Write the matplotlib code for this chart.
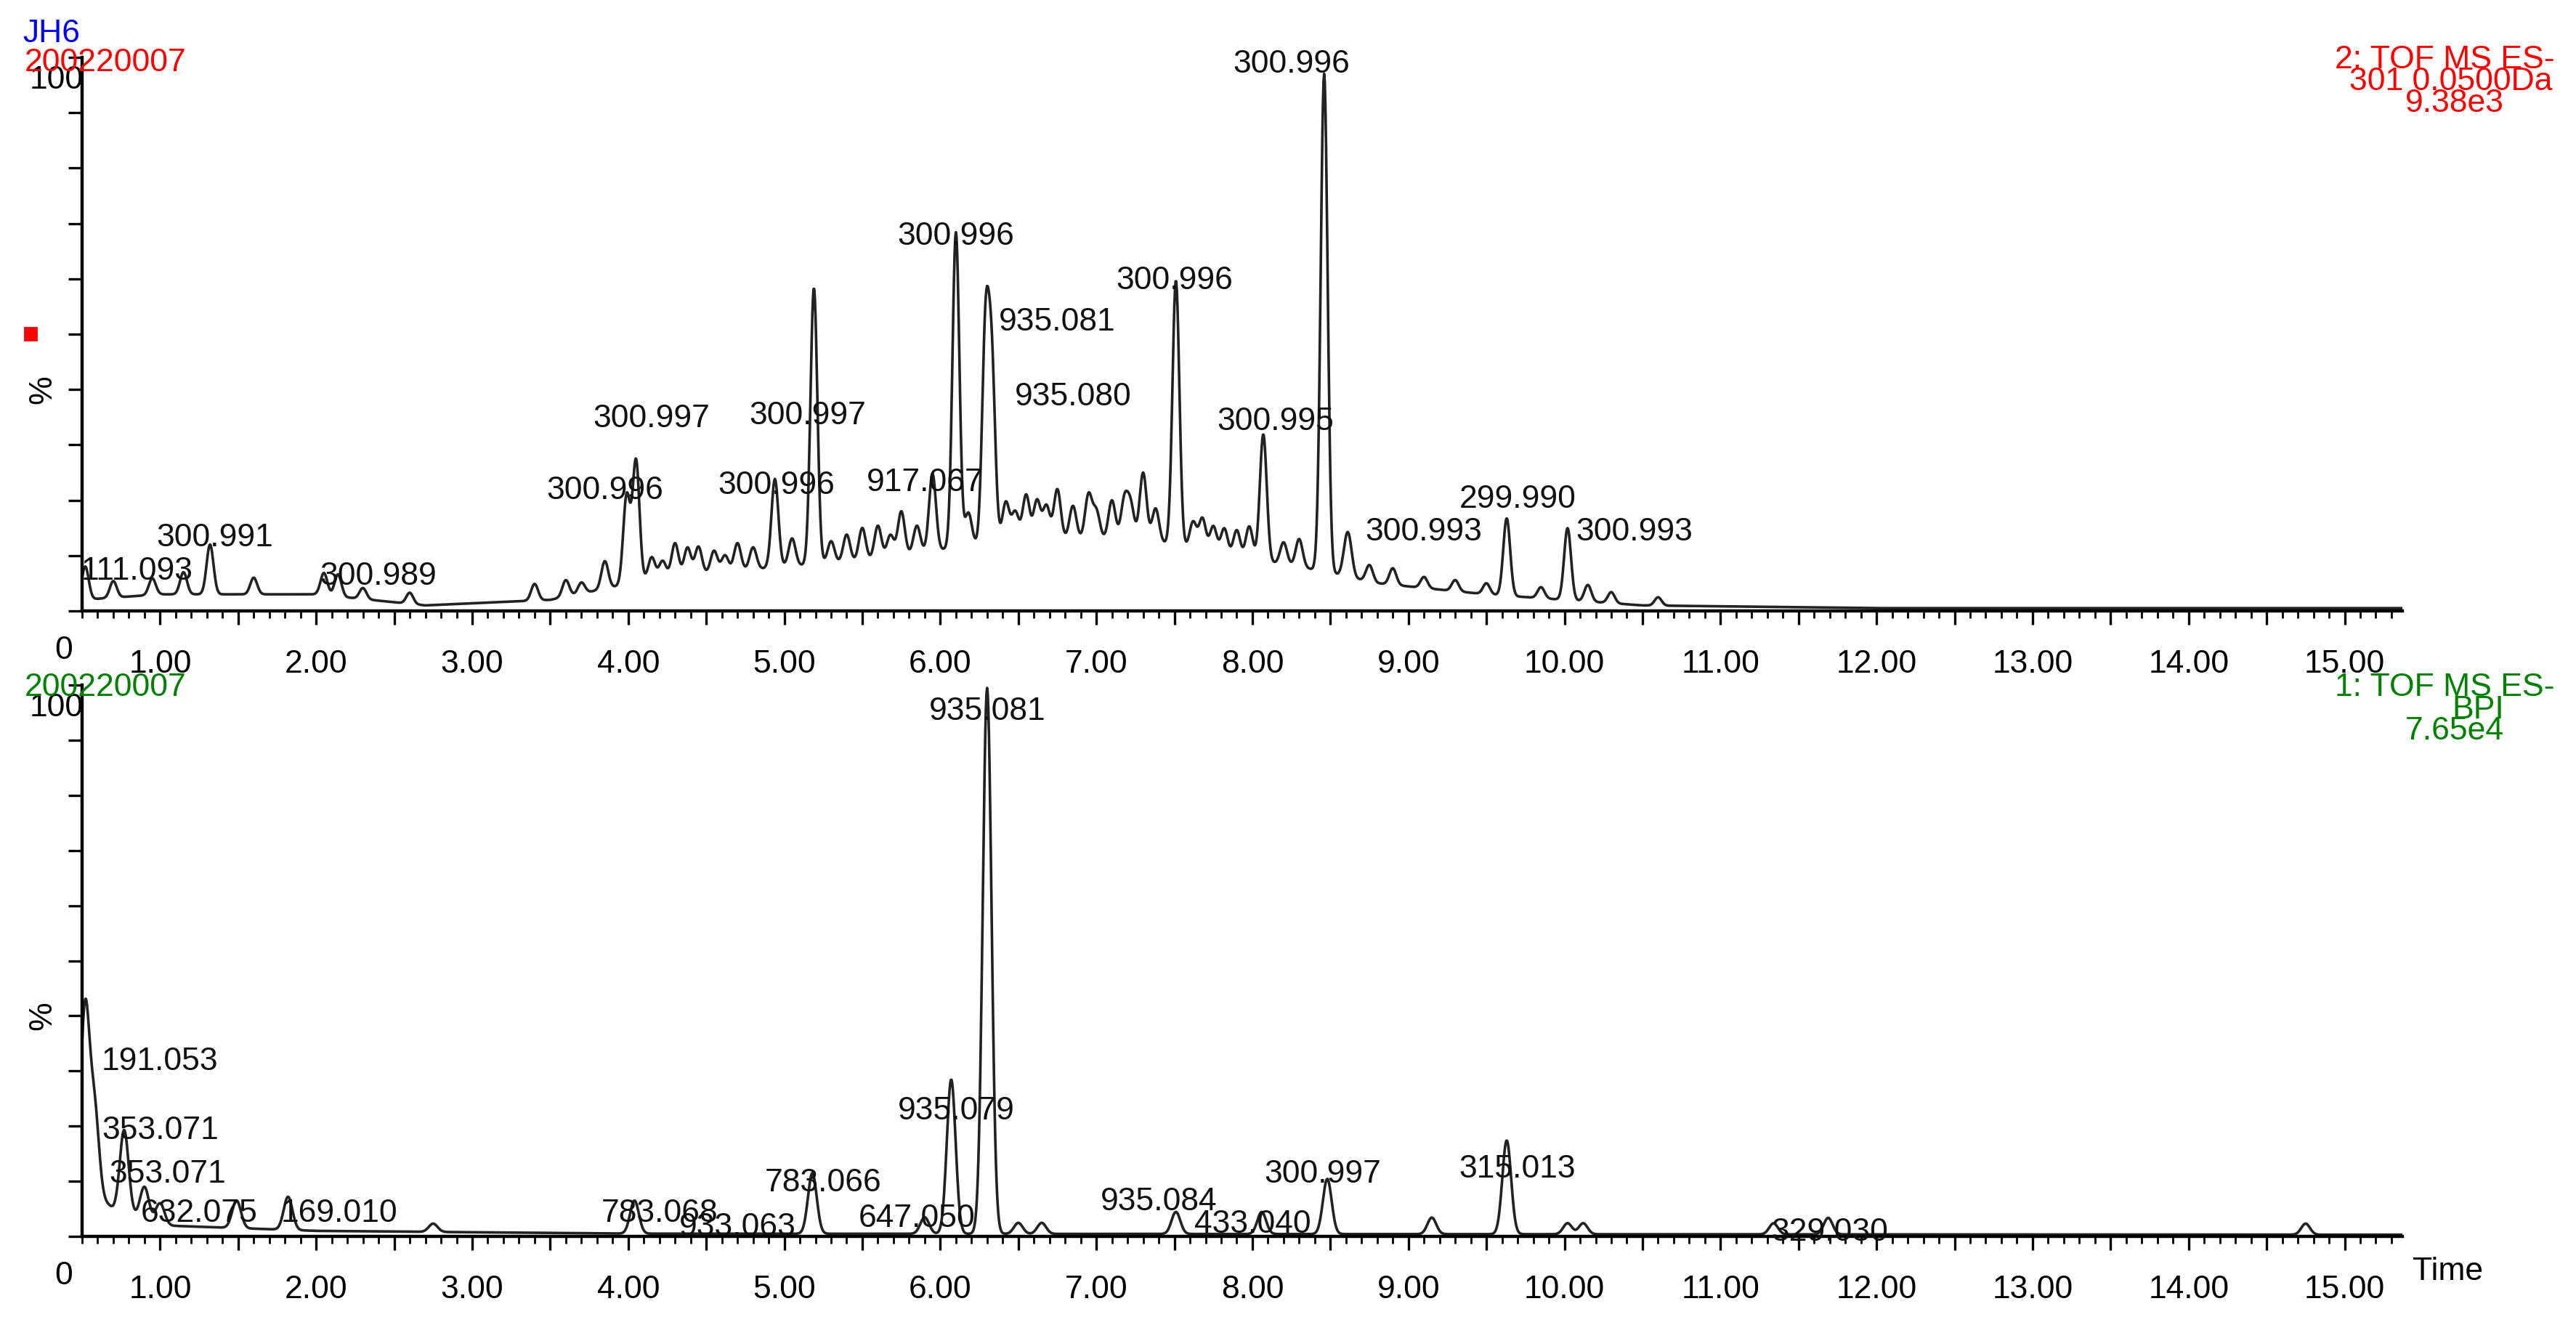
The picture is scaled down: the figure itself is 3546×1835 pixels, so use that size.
import matplotlib
matplotlib.use('Agg')
import matplotlib.pyplot as plt
import numpy as np
from matplotlib.ticker import MultipleLocator
from matplotlib.transforms import ScaledTranslation

plt.rcParams['font.family'] = ['Liberation Sans', 'DejaVu Sans']

# ---- top trace (XIC 301 +/- 0.05 Da), percent ----
top_peak_t = [0.52, 0.7, 0.95, 1.15, 1.32, 1.6, 2.05, 2.14, 2.3, 2.6, 3.4, 3.85, 3.99, 4.05, 4.3, 4.45,
              4.7, 4.94, 5.19, 5.5, 5.75, 5.95, 6.10, 6.29, 6.33, 6.55, 6.75, 6.95, 7.1, 7.3, 7.51,
              7.75, 7.9, 8.07, 8.46, 8.62, 9.63, 10.02, 10.15]
top_peak_h = [6, 3, 3, 4, 9, 3, 4, 4, 2, 2, 3, 5, 16, 22, 6, 5,
              5, 16, 50, 6, 8, 14, 57, 38, 31, 8, 9, 8, 7, 12, 48,
              5, 5, 23, 90, 5, 14, 13, 3]
# small wiggles of the noisy hump between 3.5 and 10.6 min
ripple_t = [3.6, 3.7, 4.15, 4.22, 4.38, 4.55, 4.62, 4.8, 5.05, 5.3, 5.4, 5.6, 5.68, 5.85, 6.18, 6.42,
            6.48, 6.62, 6.68, 6.85, 7.0, 7.18, 7.22, 7.38, 7.62, 7.68, 7.82, 7.98, 8.2, 8.3, 8.6, 8.75,
            8.9, 9.1, 9.3, 9.5, 9.85, 10.3, 10.6]
ripple_h = [3, 2, 4, 3, 5, 4, 3, 4, 5, 4, 5, 6, 4, 5, 6, 7,
            5, 7, 6, 6, 5, 7, 6, 6, 5, 6, 5, 6, 4, 5, 4, 3,
            3, 2, 2, 2, 2, 2, 1.5]
top_base_t = [0.5, 1.0, 2.0, 2.7, 3.5, 4.2, 5.0, 5.5, 6.0, 6.5, 7.0, 7.3, 7.8, 8.3, 8.8, 9.5, 10.5, 12, 15.4]
top_base_v = [2, 3, 3, 1, 2, 6, 8, 9, 11, 13, 13, 13, 10, 8, 5, 3, 1, 0.5, 0.5]
top_labels = [(0.85, 4.5, '111.093'), (1.35, 10.5, '300.991'), (2.4, 3.5, '300.989'), (3.85, 19, '300.996'),
              (4.15, 32, '300.997'), (4.95, 20, '300.996'), (5.15, 32.5, '300.997'), (5.9, 20.5, '917.067'),
              (6.1, 65, '300.996'), (6.75, 49.5, '935.081'), (6.85, 36, '935.080'), (7.5, 57, '300.996'),
              (8.15, 31.5, '300.995'), (9.1, 11.5, '300.993'), (9.7, 17.5, '299.990'), (10.45, 11.5, '300.993'),
              (8.25, 96, '300.996')]

# ---- bottom trace (BPI), percent ----
bot_peak_t = [0.52, 0.58, 0.77, 0.9, 1.0, 1.49, 1.82, 2.75, 4.04, 5.18, 5.9, 6.07, 6.30, 6.5, 6.65,
              7.51, 8.06, 8.48, 9.15, 9.63, 10.02, 10.12, 11.34, 11.69, 14.75]
bot_peak_h = [32, 15, 15, 6, 4, 5, 6, 1.5, 6, 11, 3, 28, 99, 2, 2,
              4, 4, 10, 3, 17, 2, 2, 2, 3, 2]
bot_base_t = [0.5, 0.7, 1.0, 2.0, 4.0, 15.4]
bot_base_v = [10, 5, 2, 1, 0.5, 0.3]
bot_labels = [(1.0, 29, '191.053'), (1.0, 16.5, '353.071'), (1.05, 8.5, '353.071'), (1.25, 1.5, '632.075'),
              (2.15, 1.5, '169.010'), (4.2, 1.5, '783.068'), (4.7, -1, '933.063'), (5.25, 7, '783.066'),
              (5.85, 0.5, '647.050'), (6.1, 20, '935.079'), (6.3, 92.5, '935.081'), (7.4, 3.5, '935.084'),
              (8.0, -0.5, '433.040'), (8.45, 8.5, '300.997'), (9.7, 9.5, '315.013'), (11.7, -2, '329.030')]

t = np.arange(0.5, 15.37, 0.004)


def trace(pt, ph, bt, bv, w=0.028):
    y = np.interp(t, bt, bv)
    for c, h in zip(pt, ph):
        y = y + h * np.exp(-0.5 * ((t - c) / w) ** 2)
    return y


W, H = 3546, 1835
FS = 16
fig = plt.figure(figsize=(W / 200, H / 200), dpi=200)
ax1 = fig.add_axes([113 / W, 1 - 841 / H, 3194 / W, 762 / H])
ax2 = fig.add_axes([113 / W, 1 - 1702 / H, 3194 / W, 759 / H])

specs = [(top_peak_t + ripple_t, top_peak_h + ripple_h, top_base_t, top_base_v, top_labels),
         (bot_peak_t, bot_peak_h, bot_base_t, bot_base_v, bot_labels)]
for ax, (pt, ph, bt, bv, labs) in zip([ax1, ax2], specs):
    w = 0.028 if ax is ax2 else 0.022
    ax.plot(t, trace(pt, ph, bt, bv, w), color='#222222', lw=1.3)
    for x, y, s in labs:
        ax.text(x, y, s, fontsize=FS, ha='center', va='bottom', color='#111111')
    ax.set_xlim(0.5, 15.37)
    ax.set_ylim(0, 100)
    for s in ('top', 'right'):
        ax.spines[s].set_visible(False)
    ax.spines['left'].set_linewidth(1.6)
    ax.spines['bottom'].set_linewidth(1.6)
    ax.set_xticks(np.arange(1, 15.01, 0.5))
    ax.set_xticklabels(['%d.00' % v if v == int(v) else '' for v in np.arange(1, 15.01, 0.5)], fontsize=FS)
    for lab in ax.get_xticklabels():
        lab.set_transform(lab.get_transform() + ScaledTranslation(0.13, 0, fig.dpi_scale_trans))
    ax.xaxis.set_minor_locator(MultipleLocator(0.1))
    ax.set_yticks(np.arange(0, 101, 10))
    ax.set_yticklabels([])
    ax.tick_params(length=7, width=1.2, pad=12)
    ax.tick_params(which='minor', length=3.5, width=1)
    ax.text(-0.011, 0.985, '100', transform=ax.transAxes, fontsize=FS, ha='center', va='top')
    ax.text(-0.004, -0.045, '0', transform=ax.transAxes, fontsize=FS, ha='right', va='top')
    ax.text(-0.017, 0.40, '%', transform=ax.transAxes, fontsize=FS, rotation=90, ha='center', va='center')

fig.text(31 / W, 1 - 46 / H, 'JH6', color='blue', fontsize=FS, va='center')
fig.text(34 / W, 1 - 86 / H, '200220007', color='red', fontsize=FS, va='center')
fig.text(3517 / W, 1 - 83 / H, '2: TOF MS ES-', color='red', fontsize=FS, va='center', ha='right')
fig.text(3513 / W, 1 - 113 / H, '301 0.0500Da', color='red', fontsize=FS, va='center', ha='right')
fig.text(3447 / W, 1 - 142 / H, '9.38e3', color='red', fontsize=FS, va='center', ha='right')
fig.add_artist(plt.Rectangle((34 / W, 1 - 468 / H), 16 / W, 17 / H, color='red', transform=fig.transFigure))
fig.text(34 / W, 1 - 947 / H, '200220007', color='green', fontsize=FS, va='center')
fig.text(3517 / W, 1 - 947 / H, '1: TOF MS ES-', color='green', fontsize=FS, va='center', ha='right')
fig.text(3447 / W, 1 - 977 / H, 'BPI', color='green', fontsize=FS, va='center', ha='right')
fig.text(3447 / W, 1 - 1006 / H, '7.65e4', color='green', fontsize=FS, va='center', ha='right')
fig.text(3370 / W, 1 - 1750 / H, 'Time', fontsize=FS, va='center', ha='center')

fig.savefig('out.png', facecolor='white')
